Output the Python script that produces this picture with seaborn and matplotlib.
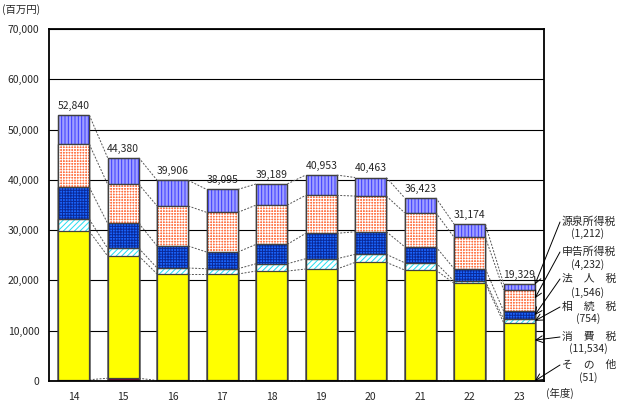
import numpy as np
import matplotlib
matplotlib.use("Agg")
import matplotlib.pyplot as plt
from matplotlib.patches import Rectangle
import seaborn as sns

# 年度
years = ["14", "15", "16", "17", "18", "19", "20", "21", "22", "23"]

# 税目別 (百万円), top segment first
gensen = [5784, 5276, 5116, 4557, 4200, 4036, 3685, 2965, 2606, 1212]
shinkoku = [8548, 7753, 7952, 7893, 7813, 7554, 7097, 6759, 6243, 4232]
houjin = [6362, 4970, 4374, 3320, 3856, 5050, 4493, 3181, 2505, 1546]
souzoku = [2386, 1531, 1192, 1053, 1452, 2047, 1591, 1451, 397, 754]
shouhi = [29510, 24300, 21172, 21172, 21768, 22166, 23497, 21967, 19323, 11534]
sonota = [250, 550, 100, 100, 100, 100, 100, 100, 100, 51]

names = ["源泉所得税", "申告所得税", "法\u3000人\u3000税",
         "相\u3000続\u3000税", "消\u3000費\u3000税", "そ\u3000の\u3000他"]
layers = [gensen, shinkoku, houjin, souzoku, shouhi, sonota]

# face colour, hatch, hatch colour (same order as layers)
styles = [("#a0a0ff", "|||||", "#3a3aff"),
          ("#ff7040", "++++++", "#ffffff"),
          ("#1a66ff", "++++++", "#0a2a9a"),
          ("#ffffff", "//////", "#22ddf0"),
          ("#ffff00", None, None),
          ("#6a0a3a", None, None)]

sns.set_theme(style="white")
plt.rcParams["font.family"] = ["Noto Sans CJK JP", "DejaVu Sans"]
plt.rcParams["hatch.linewidth"] = 0.7

fig = plt.figure(figsize=(6.2, 4.05), dpi=100)
ax = fig.add_axes([49 / 620, 1 - 381 / 405, 495 / 620, 352 / 405])

# cumulative heights from the bottom layer up
cum = np.cumsum(np.array(layers[::-1]), axis=0)
edge = "#404040"

bars = None
for k in range(len(layers) - 1, -1, -1):
    face, hatch, hcol = styles[len(layers) - 1 - k]
    n0 = len(ax.patches)
    sns.barplot(x=years, y=cum[k], color=face, saturation=1, width=0.63,
                edgecolor=edge, linewidth=0.9, errorbar=None, ax=ax)
    new = ax.patches[n0:]
    if bars is None:
        bars = list(new)
    if hatch:
        for p in new:
            ax.add_patch(Rectangle(p.get_xy(), p.get_width(), p.get_height(),
                                   fill=False, hatch=hatch, edgecolor=hcol, linewidth=0))
            ax.add_patch(Rectangle(p.get_xy(), p.get_width(), p.get_height(),
                                   fill=False, edgecolor=edge, linewidth=0.9))

lefts = [p.get_x() for p in bars]
rights = [p.get_x() + p.get_width() for p in bars]
centers = [p.get_x() + p.get_width() / 2 for p in bars]

# dashed connectors between bars
for k in range(len(layers)):
    for i in range(len(years) - 1):
        ax.plot([rights[i], lefts[i + 1]], [cum[k][i], cum[k][i + 1]],
                ls=(0, (2, 1.5)), color="#555555", lw=0.7, zorder=1)

# totals
totals = cum[-1]
for c, t in zip(centers, totals):
    ax.annotate("{:,}".format(int(t)), (c, t), xytext=(0, 3), textcoords="offset points",
                ha="center", va="bottom", fontsize=7.5)

ax.set_xlim(-0.5, 9.5)
ax.set_ylim(0, 70000)
ax.set_yticks(range(0, 70001, 10000))
ax.set_yticklabels(["{:,}".format(v) for v in range(0, 70001, 10000)])
ax.set_xlabel("")
ax.set_ylabel("")
ax.yaxis.grid(True, color="black", lw=0.8)
ax.set_axisbelow(True)
ax.tick_params(axis="y", length=0, pad=7, labelsize=7.5)
ax.tick_params(axis="x", length=0, pad=8, labelsize=7.5)
for s in ax.spines.values():
    s.set_color("black")
    s.set_linewidth(1.3)

fig.text(2 / 620, 1 - 10 / 405, "(百万円)", fontsize=7.5, va="center", ha="left")
fig.text(560 / 620, 1 - 393 / 405, "(年度)", fontsize=7.5, va="center", ha="center")

# right-hand labels with arrows to the last bar
name_y = [222, 252, 279, 307, 337, 365]
num_y = [234, 265, 293, 319, 349, 378]
tip_frac = [0.85, 0.6, 0.5, 0.5, 0.7, 0.5]
last = len(years) - 1
bottoms = [cum[len(layers) - 2 - j][last] if j < len(layers) - 1 else 0
           for j in range(len(layers))]
for j, (nm, vals) in enumerate(zip(names, layers)):
    fig.text(562 / 620, 1 - name_y[j] / 405, nm, fontsize=7.8, va="center", ha="left")
    fig.text(588 / 620, 1 - num_y[j] / 405, "({:,})".format(vals[last]),
             fontsize=7.5, va="center", ha="center")
    tip = bottoms[j] + vals[last] * tip_frac[j]
    ax.annotate("", xy=(rights[last], tip), xycoords="data",
                xytext=(560 / 620, 1 - name_y[j] / 405), textcoords="figure fraction",
                arrowprops=dict(arrowstyle="->", color="black", lw=0.7,
                                shrinkA=0, shrinkB=0),
                annotation_clip=False)

fig.savefig("out.png", dpi=100)
